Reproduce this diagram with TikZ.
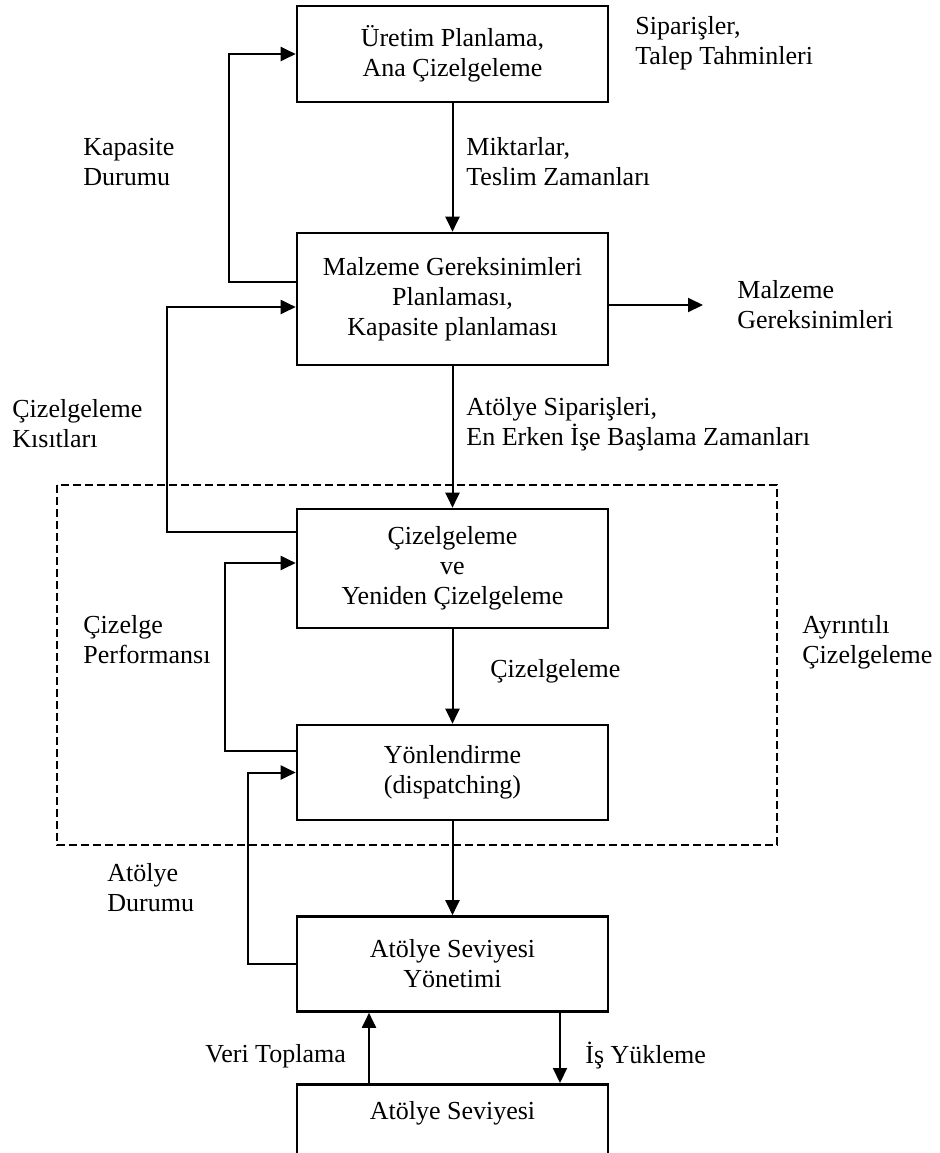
\documentclass[tikz,border=0pt]{standalone}
\usepackage{fontspec}
\setmainfont{Liberation Serif}
\usetikzlibrary{arrows.meta,positioning}

\begin{document}
\begin{tikzpicture}[x=0.5pt,y=-0.5pt,
    font=\fontsize{13}{15}\selectfont,
    kutu/.style={draw,line width=1.3pt,minimum width=155.5pt,align=center,inner sep=0pt},
    ok/.style={line width=1pt,-{Triangle[length=7.5pt,width=7pt]}},
    etiket/.style={align=left,anchor=west,inner sep=0pt}]

    \useasboundingbox (0,0) rectangle (940,1153);
    \clip (0,0) rectangle (940,1153);

    % kutular
    \node[kutu,minimum height=48pt] (uretim) at (452.5,54) {Üretim Planlama,\\Ana Çizelgeleme};
    \node[kutu,minimum height=66pt] (mrp) at (452.5,299) {Malzeme Gereksinimleri\\Planlaması,\\Kapasite planlaması};
    \node[kutu,minimum height=59.5pt] (cizel) at (452.5,568.5) {Çizelgeleme\\ve\\Yeniden Çizelgeleme};
    \node[kutu,minimum height=47.5pt] (yonl) at (452.5,772.5) {Yönlendirme\\(dispatching)};
    \node[kutu,minimum height=47.5pt] (ays) at (452.5,964) {Atölye Seviyesi\\Yönetimi};
    \node[kutu,anchor=north,text height=11pt,text depth=60pt,inner ysep=6.5pt] (atolye) at (452.5,1083) {Atölye Seviyesi};

    \draw[line width=1pt,dash pattern=on 4pt off 2pt] (57,485) rectangle (777,845); % ayrıntılı çizelgeleme

    % oklar
    \draw[ok] (uretim) -- (mrp);
    \draw[ok] (mrp) -- (cizel);
    \draw[ok] (cizel) -- (yonl);
    \draw[ok] (yonl) -- (ays);
    \draw[ok] ([xshift=53.75pt]ays.south) -- ([xshift=53.75pt]atolye.north);
    \draw[ok] ([xshift=-41.75pt]atolye.north) -- ([xshift=-41.75pt]ays.south);

    \coordinate (mrucu) at (703,305);
    \draw[ok] (mrp.east |- mrucu) -- (mrucu);

    % geri besleme
    \draw[ok] ([yshift=8.5pt]mrp.west) -- ++(-67,0) |- (uretim.west);
    \draw[ok] ([yshift=18.25pt]cizel.west) -- ++(-129,0) |- ([yshift=-4pt]mrp.west);
    \draw[ok] ([yshift=10.75pt]yonl.west) -- ++(-71,0) |- ([yshift=2.75pt]cizel.west);
    \draw[ok] (ays.west) -- ++(-48,0) |- (yonl.west);

    % etiketler
    \node[etiket] (siparis) at (635,43) {Siparişler,\\Talep Tahminleri};
    \node[etiket] (kapdur) at (83,162) {Kapasite\\Durumu};
    \node[etiket] (miktar) at (466,162) {Miktarlar,\\Teslim Zamanları};
    \node[etiket] (malger) at (737,305) {Malzeme\\Gereksinimleri};
    \node[etiket] (kisit) at (12,424) {Çizelgeleme\\Kısıtları};
    \node[etiket] (atsip) at (466,424) {Atölye Siparişleri,\\En Erken İşe Başlama Zamanları};
    \node[etiket] (perf) at (83,640) {Çizelge\\Performansı};
    \node[etiket] (ayrinti) at (802,642) {Ayrıntılı\\Çizelgeleme};
    \node[etiket] (cizlbl) at (490,671) {Çizelgeleme};
    \node[etiket] (atdur) at (107,888) {Atölye\\Durumu};
    \node[etiket] (veri) at (205,1056) {Veri Toplama};
    \node[etiket] (isyuk) at (585,1056) {İş Yükleme};

\end{tikzpicture}
\end{document}
